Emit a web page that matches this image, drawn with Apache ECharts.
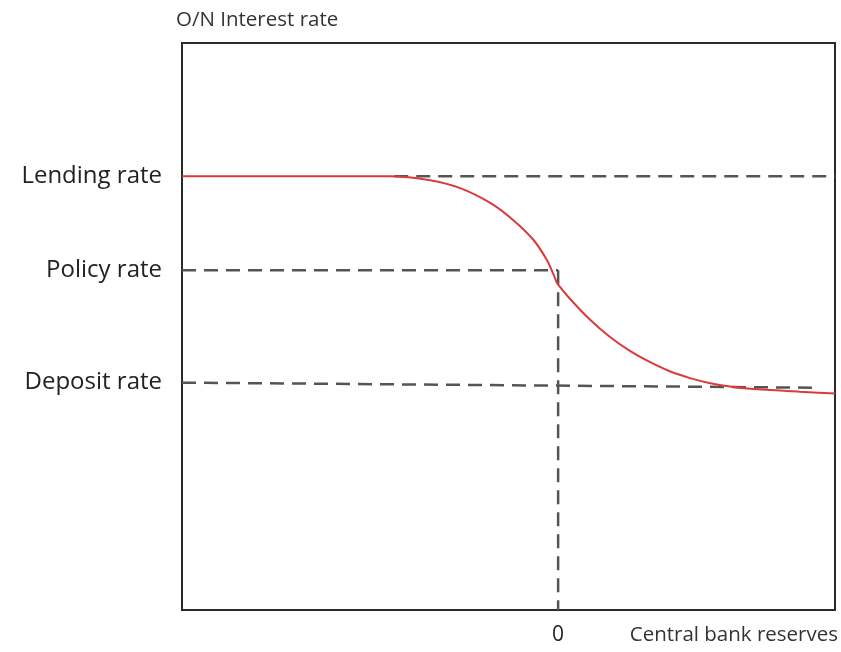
<!DOCTYPE html>
<html>
<head>
<meta charset="utf-8">
<script src="https://cdn.jsdelivr.net/npm/echarts@6/dist/echarts.min.js"></script>
<style>html,body{margin:0;padding:0;background:#fff}#c{width:841px;height:652px}</style>
</head>
<body>
<div id="c"></div>
<script>
// Data (abstract units, x: 0..100 reserves, y: 0..100 rate)
const rateNames = ['Lending rate', 'Policy rate', 'Deposit rate'];
const rateValues = [76.5, 59.9, 40.1];
const zeroReserves = 57.6;
// demand curve, upper branch (down to the kink at the policy rate)
const curveUpperX = [0, 31.9, 38.0, 42.6, 47.2, 50.7, 53.8, 55.9, 56.8, 57.4];
const curveUpperY = [76.5, 76.5, 75.8, 74.4, 71.8, 68.8, 65.3, 61.7, 59.4, 57.7];
// demand curve, lower branch (from the kink to the right edge)
const curveLowerX = [57.4, 59.4, 62.5, 65.5, 68.6, 71.7, 74.7, 77.8, 80.9, 83.9, 87.0, 94.6, 100];
const curveLowerY = [57.7, 54.9, 51.2, 48.2, 45.7, 43.7, 42.1, 40.9, 40.0, 39.4, 39.0, 38.5, 38.2];
const lendingLineX = [32.5, 100];
const policyLineX = [0, 57.6];
const depositLineX = [0, 97.7];
const depositLineY = [40.1, 39.2];
const verticalLineY = [59.9, 0];

const chart = echarts.init(document.getElementById('c'));
const dash = { color: '#555', width: 2.5, type: [14, 8] };
const red = { color: '#dc3a3a', width: 2 };
const font = '"Open Sans", "Noto Sans", sans-serif';
chart.setOption({
  animation: false,
  grid: { left: 182, top: 43, width: 653, height: 567, show: true, borderColor: '#2a2a2a', borderWidth: 2, backgroundColor: 'transparent' },
  xAxis: {
    type: 'value', min: 0, max: 100,
    splitLine: { show: false }, axisLine: { show: false }, axisTick: { show: false },
    axisLabel: { customValues: [zeroReserves], formatter: () => '0', fontSize: 21, color: '#222', margin: 15, fontFamily: font },
    name: 'Central bank reserves', nameLocation: 'end', nameGap: 3,
    nameTextStyle: { align: 'right', verticalAlign: 'top', padding: [15, 0, 0, 0], fontSize: 20.5, color: '#333', fontFamily: font }
  },
  yAxis: {
    type: 'value', min: 0, max: 100,
    splitLine: { show: false }, axisLine: { show: false }, axisTick: { show: false },
    axisLabel: {
      customValues: rateValues,
      formatter: v => rateNames[rateValues.indexOf(v)],
      fontSize: 24, color: '#222', margin: 20, fontFamily: font
    },
    name: 'O/N Interest rate', nameLocation: 'end', nameGap: 12,
    nameTextStyle: { align: 'left', padding: [0, 0, 0, -6], fontSize: 20.5, color: '#333', fontFamily: font }
  },
  series: [
    { type: 'line', symbol: 'none', data: lendingLineX.map(x => [x, rateValues[0]]), lineStyle: dash },
    { type: 'line', symbol: 'none', data: policyLineX.map(x => [x, rateValues[1]]), lineStyle: dash },
    { type: 'line', symbol: 'none', data: verticalLineY.map(y => [zeroReserves, y]), lineStyle: dash },
    { type: 'line', symbol: 'none', data: depositLineX.map((x, i) => [x, depositLineY[i]]), lineStyle: dash },
    { type: 'line', symbol: 'none', smooth: 0.35,
      data: curveUpperX.map((x, i) => [x, curveUpperY[i]]), lineStyle: red },
    { type: 'line', symbol: 'none', smooth: 0.35,
      data: curveLowerX.map((x, i) => [x, curveLowerY[i]]), lineStyle: red }
  ]
});
</script>
</body>
</html>
